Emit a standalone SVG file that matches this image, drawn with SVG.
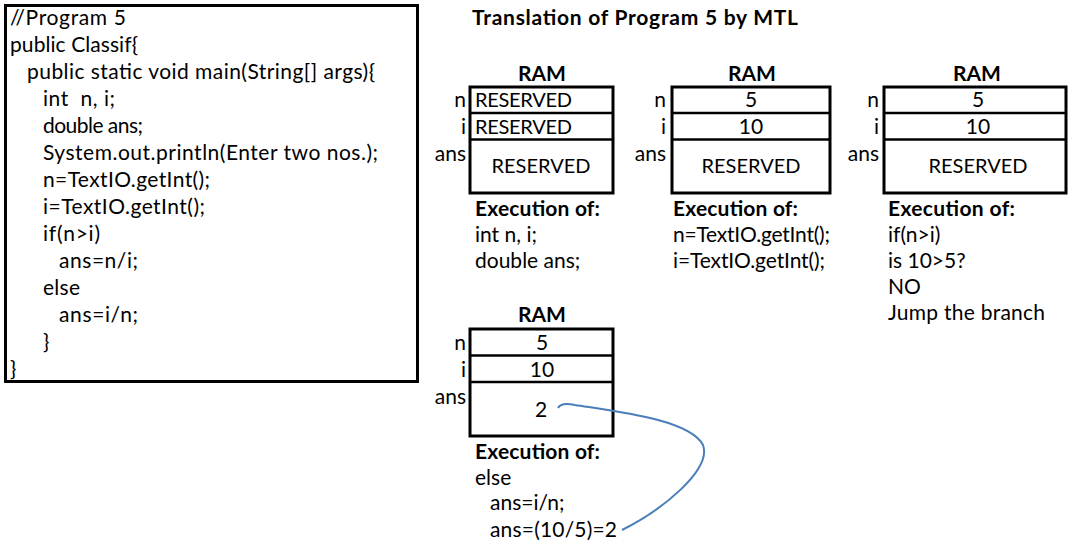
<svg xmlns="http://www.w3.org/2000/svg" width="1070" height="542" viewBox="0 0 1070 542">
<style>
text{font-family:Lato,Carlito,"Open Sans",sans-serif;font-size:21px;fill:#000}
.b{font-weight:bold}
.c{text-anchor:middle}
.r{text-anchor:end}
.s{font-size:20px}
.box{fill:#fff;stroke:#000;stroke-width:3}
.ln{stroke:#000;stroke-width:2.5}
.curve{fill:none;stroke:#4a7ebb;stroke-width:2}
</style>
<rect width="1070" height="542" fill="#fff"/>
<g id="code">
<rect class="box" x="5.5" y="5.5" width="412" height="376"/>
<text x="10" y="25" textLength="116">//Program 5</text>
<text x="10" y="52" textLength="128">public Classif{</text>
<text x="27" y="79" textLength="348">public static void main(String[] args){</text>
<text x="43" y="106" textLength="72" xml:space="preserve">int  n, i;</text>
<text x="43" y="133" textLength="100">double ans;</text>
<text x="43" y="160" textLength="335">System.out.println(Enter two nos.);</text>
<text x="43" y="187" textLength="167">n=TextIO.getInt();</text>
<text x="43" y="214" textLength="162">i=TextIO.getInt();</text>
<text x="43" y="241" textLength="57">if(n&gt;i)</text>
<text x="59" y="268" textLength="79">ans=n/i;</text>
<text x="43" y="295" textLength="37">else</text>
<text x="59" y="322" textLength="79">ans=i/n;</text>
<text x="43" y="349">}</text>
<text x="10" y="376">}</text>
</g>
<text class="b" x="472" y="25" textLength="326">Translation of Program 5 by MTL</text>
<g id="ram1">
<text class="b c" x="542" y="81">RAM</text>
<rect class="box" x="470" y="87" width="143" height="106"/>
<line class="ln" x1="470" y1="113" x2="613" y2="113"/>
<line class="ln" x1="470" y1="139.5" x2="613" y2="139.5"/>
<text class="r" x="466" y="107">n</text>
<text class="r" x="466" y="134">i</text>
<text class="r" x="466" y="161">ans</text>
<text class="s" x="475" y="107" textLength="97">RESERVED</text>
<text class="s" x="475" y="134" textLength="97">RESERVED</text>
<text class="s c" x="541" y="173">RESERVED</text>
<text class="b" x="475" y="216" textLength="125">Execution of:</text>
<text x="475" y="242">int n, i;</text>
<text x="475" y="268">double ans;</text>
</g>
<g id="ram2">
<text class="b c" x="752" y="81">RAM</text>
<rect class="box" x="672" y="87" width="158" height="106"/>
<line class="ln" x1="672" y1="113" x2="830" y2="113"/>
<line class="ln" x1="672" y1="139.5" x2="830" y2="139.5"/>
<text class="r" x="666" y="107">n</text>
<text class="r" x="666" y="134">i</text>
<text class="r" x="666" y="161">ans</text>
<text class="c" x="751" y="107">5</text>
<text class="c" x="751" y="134">10</text>
<text class="s c" x="751" y="173">RESERVED</text>
<text class="b" x="673" y="216" textLength="125">Execution of:</text>
<text x="673" y="242" textLength="157">n=TextIO.getInt();</text>
<text x="673" y="268" textLength="152">i=TextIO.getInt();</text>
</g>
<g id="ram3">
<text class="b c" x="977" y="81">RAM</text>
<rect class="box" x="884" y="87" width="182" height="106"/>
<line class="ln" x1="884" y1="113" x2="1066" y2="113"/>
<line class="ln" x1="884" y1="139.5" x2="1066" y2="139.5"/>
<text class="r" x="879" y="107">n</text>
<text class="r" x="879" y="134">i</text>
<text class="r" x="879" y="161">ans</text>
<text class="c" x="978" y="107">5</text>
<text class="c" x="978" y="134">10</text>
<text class="s c" x="978" y="173">RESERVED</text>
<text class="b" x="888" y="216" textLength="127">Execution of:</text>
<text x="888" y="242">if(n&gt;i)</text>
<text x="888" y="268">is 10&gt;5?</text>
<text x="888" y="294">NO</text>
<text x="888" y="320" textLength="157">Jump the branch</text>
</g>
<g id="ram4">
<text class="b c" x="542" y="322">RAM</text>
<rect class="box" x="470" y="329" width="143" height="107"/>
<line class="ln" x1="470" y1="355.5" x2="613" y2="355.5"/>
<line class="ln" x1="470" y1="382" x2="613" y2="382"/>
<text class="r" x="466" y="350">n</text>
<text class="r" x="466" y="377">i</text>
<text class="r" x="466" y="404">ans</text>
<text class="c" x="542" y="350">5</text>
<text class="c" x="542" y="377">10</text>
<text class="c" x="541" y="417">2</text>
<text class="b" x="475" y="459" textLength="125">Execution of:</text>
<text x="475" y="485">else</text>
<text x="490" y="510">ans=i/n;</text>
<text x="490" y="537" textLength="127">ans=(10/5)=2</text>
</g>
<g id="connectors">
<path class="curve" d="M558,408 C560,404 566,403 575,405 C620,412 690,420 703,445 C712,470 662,510 622,530"/>
</g>
</svg>
